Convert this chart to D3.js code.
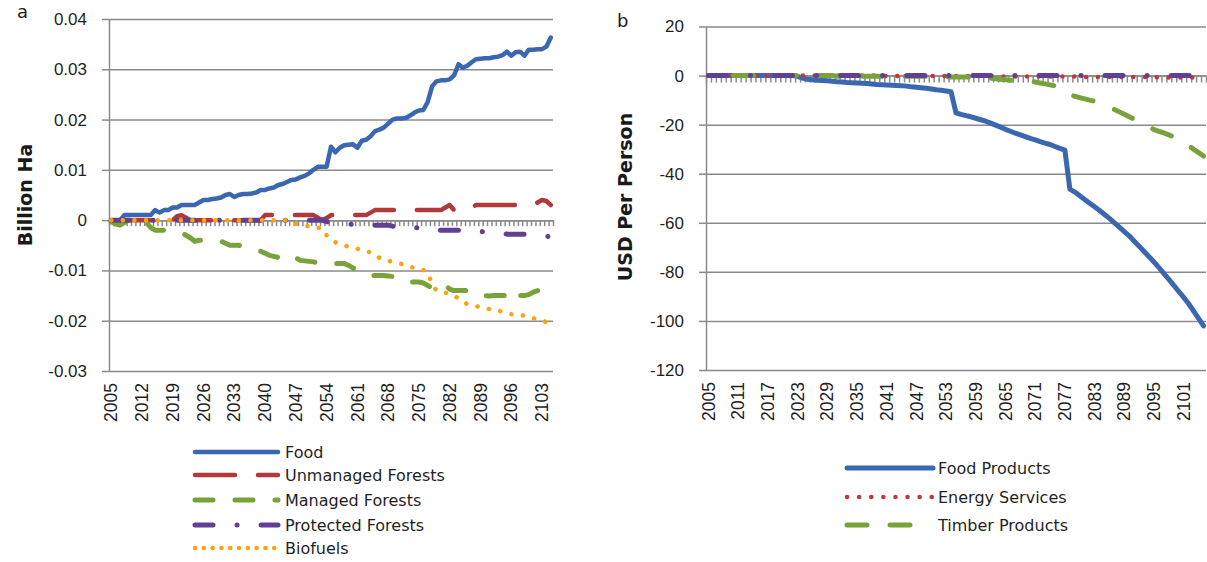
<!DOCTYPE html>
<html>
<head>
<meta charset="utf-8">
<script src="https://cdn.jsdelivr.net/npm/d3@7"></script>
<style>
  body { margin: 0; background: #fff; }
  svg { font-family: "DejaVu Sans", sans-serif; }
  .axis text { font-size: 17px; fill: #1f1f1f; }
  .xlab text { font-size: 17.5px; }
  .axis line, .axis path { stroke: #8a8a8a; stroke-width: 1.5; }
  .grid line { stroke: #8a8a8a; stroke-width: 1.5; }
  .legend text { font-size: 16px; fill: #1f1f1f; }
</style>
</head>
<body>
<svg id="chart" width="1207" height="562"></svg>
<script>
// categories: one per year
var years = d3.range(2005, 2106);

// panel a, billion ha
var food = [
  0, 0, 0, 0.001, 0.001, 0.001, 0.001, 0.001, 0.001, 0.001,
  0.002, 0.0015, 0.002, 0.002, 0.0025, 0.0025, 0.003, 0.003, 0.003, 0.003,
  0.0035, 0.004, 0.004, 0.0042, 0.0043, 0.0045, 0.005, 0.0052, 0.0046, 0.005,
  0.0052, 0.0052, 0.0053, 0.0055, 0.006, 0.006, 0.0063, 0.0065, 0.007, 0.0072,
  0.0076, 0.008, 0.0081, 0.0085, 0.0088, 0.0093, 0.01, 0.0106, 0.0106, 0.0106,
  0.0146, 0.0135, 0.0144, 0.0149, 0.015, 0.0151, 0.0144, 0.0158, 0.016, 0.0167,
  0.0177, 0.018, 0.0184, 0.0192, 0.02, 0.0202, 0.0202, 0.0203, 0.0208, 0.0214,
  0.0218, 0.0219, 0.0235, 0.0266, 0.0276, 0.0278, 0.0278, 0.028, 0.0288, 0.031,
  0.0303, 0.0307, 0.0314, 0.032, 0.0321, 0.0322, 0.0322, 0.0324, 0.0325, 0.0328,
  0.0335, 0.0327, 0.0334, 0.0335, 0.0327, 0.0339, 0.0339, 0.034, 0.034, 0.0345,
  0.0363
];
var unmanaged = [
  0, 0, 0, 0, 0, 0, 0, 0, 0, 0,
  0, 0, 0, 0, 0, 0.0008, 0.001, 0.0005, 0, 0,
  0, 0, 0, 0, 0, 0, 0, 0, 0, 0,
  0, 0, 0, 0, 0, 0.001, 0.001, 0.001, 0.001, 0.001,
  0.001, 0.001, 0.001, 0.001, 0.001, 0.001, 0.001, 0.0005, 0, 0.0004,
  0.001, 0.001, 0.001, 0.001, 0.001, 0.001, 0.001, 0.001, 0.001, 0.0015,
  0.002, 0.002, 0.002, 0.002, 0.002, 0.002, 0.002, 0.002, 0.002, 0.002,
  0.002, 0.002, 0.002, 0.002, 0.002, 0.002, 0.0025, 0.003, 0.002, 0.002,
  0.002, 0.002, 0.0025, 0.003, 0.003, 0.003, 0.003, 0.003, 0.003, 0.003,
  0.003, 0.003, 0.003, 0.003, 0.003, 0.003, 0.003, 0.0035, 0.004, 0.0038,
  0.003
];
var managed = [
  -0.0003, -0.0008, -0.001, -0.0005, 0, 0, 0, 0, -0.0005, -0.0015,
  -0.002, -0.002, -0.002, -0.002, -0.0021, -0.0022, -0.0025, -0.003, -0.0035, -0.0042,
  -0.004, -0.004, -0.004, -0.004, -0.0041, -0.0042, -0.0046, -0.005, -0.005, -0.005,
  -0.0052, -0.0054, -0.0056, -0.006, -0.0062, -0.0066, -0.007, -0.0072, -0.0074, -0.0077,
  -0.0076, -0.007, -0.0075, -0.008, -0.0081, -0.0082, -0.0083, -0.0085, -0.0086, -0.0086,
  -0.0086, -0.0086, -0.0086, -0.0086, -0.009, -0.0095, -0.01, -0.0103, -0.0108, -0.011,
  -0.011, -0.011, -0.011, -0.0111, -0.0112, -0.0112, -0.0114, -0.012, -0.0123, -0.0123,
  -0.0123, -0.0125, -0.013, -0.0135, -0.014, -0.0135, -0.013, -0.0137, -0.014, -0.014,
  -0.014, -0.014, -0.014, -0.014, -0.0146, -0.015, -0.0151, -0.015, -0.015, -0.015,
  -0.015, -0.014, -0.0152, -0.015, -0.015, -0.0148, -0.0143, -0.014, -0.0146, -0.015,
  -0.0151
];
var protectedF = [
  0, 0, 0, 0, 0, 0, 0, 0, 0, 0,
  0, 0, 0, 0, 0, 0, 0, 0, 0, 0,
  0, 0, 0, 0, 0, 0, 0, 0, 0, 0,
  0, 0, 0, 0, 0, 0, 0, 0, 0, 0,
  0, 0, 0, 0, 0, 0, 0, 0, 0, -0.0003,
  -0.0004, -0.0005, -0.0006, -0.0007, -0.0008, -0.0008, -0.0008, -0.0008, -0.0008, -0.001,
  -0.001, -0.001, -0.001, -0.001, -0.0012, -0.0012, -0.0012, -0.0015, -0.0015, -0.0015,
  -0.0015, -0.0017, -0.0017, -0.0017, -0.002, -0.002, -0.002, -0.002, -0.002, -0.002,
  -0.0022, -0.0022, -0.0022, -0.0022, -0.0022, -0.0024, -0.0025, -0.0025, -0.0025, -0.0025,
  -0.0028, -0.0028, -0.0028, -0.0028, -0.0028, -0.003, -0.003, -0.003, -0.003, -0.0032,
  -0.0033
];
var biofuels = [
  0, 0, 0, 0, 0, 0, 0, 0, 0, 0,
  0, 0, 0, 0, 0, 0, 0, 0, 0, 0,
  0, 0, 0, 0, 0, 0, 0, 0, 0, 0,
  0, 0, 0, 0, 0, 0, 0, 0, 0, 0,
  0, -0.0003, -0.0007, -0.001, -0.0011, -0.0012, -0.0014, -0.0015, -0.0016, -0.003,
  -0.0036, -0.0044, -0.0048, -0.005, -0.0053, -0.0055, -0.0057, -0.006, -0.0062, -0.0064,
  -0.007, -0.0075, -0.0078, -0.0081, -0.0083, -0.0085, -0.0087, -0.009, -0.0093, -0.0095,
  -0.0097, -0.0099, -0.0104, -0.0128, -0.014, -0.0141, -0.0144, -0.0147, -0.0151, -0.0155,
  -0.0161, -0.0167, -0.0169, -0.0171, -0.0173, -0.0175, -0.0177, -0.0179, -0.018, -0.0182,
  -0.0185, -0.0187, -0.0188, -0.0189, -0.019, -0.0192, -0.0195, -0.0197, -0.0199, -0.0203,
  -0.0206
];

// panel b, USD per person
var foodProducts = [
  0, 0, 0, 0, 0, 0, 0, 0, 0, 0,
  0, 0, 0, 0, 0, 0, 0, 0, -0.3, -1,
  -1.5, -1.7, -1.9, -2, -2.1, -2.3, -2.5, -2.6, -2.8, -2.9,
  -3, -3.1, -3.2, -3.4, -3.6, -3.7, -3.8, -3.9, -4, -4.1,
  -4.3, -4.6, -4.8, -5, -5.2, -5.5, -5.8, -6, -6.3, -6.6,
  -15.2, -15.8, -16.3, -16.8, -17.4, -18, -18.6, -19.4, -20.2, -21,
  -21.9, -22.7, -23.5, -24.2, -24.9, -25.6, -26.2, -26.9, -27.5, -28.1,
  -28.9, -29.7, -30.4, -46.3, -47.5, -49, -50.5, -52, -53.5, -55,
  -56.6, -58.2, -60, -61.8, -63.6, -65.3, -67.5, -69.6, -71.7, -73.8,
  -76, -78.3, -80.7, -83.1, -85.5, -88, -90.4, -93, -96, -99,
  -102
];
var energyServices = [
  0, 0, 0, 0, 0, 0, 0, 0, 0, 0,
  0, 0, 0, 0, 0, 0, 0, 0, 0, 0,
  0, 0, 0, 0, 0, 0, 0, 0, 0, 0,
  0, 0, 0, 0, 0, 0, -0.2, -0.2, -0.2, -0.2,
  -0.2, -0.2, -0.2, -0.2, -0.2, -0.2, -0.2, -0.2, -0.2, -0.2,
  -0.2, -0.2, -0.2, -0.2, -0.2, -0.2, -0.4, -0.4, -0.4, -0.4,
  -0.4, -0.4, -0.4, -0.4, -0.4, -0.4, -0.4, -0.4, -0.4, -0.4,
  -0.4, -0.4, -0.4, -0.4, -0.4, -0.4, -0.6, -0.6, -0.6, -0.6,
  -0.6, -0.6, -0.6, -0.6, -0.6, -0.6, -0.6, -0.6, -0.6, -0.6,
  -0.6, -0.8, -0.8, -0.8, -0.8, -0.8, -0.8, -0.8, -0.8, -0.8,
  -0.8
];
var timberProducts = [
  0, 0, 0, 0, 0, 0, 0, 0, 0, 0,
  0, 0, 0, 0, 0, 0, 0, 0, 0, 0,
  0, 0, 0, 0, 0, 0, -0.3, -0.3, -0.3, -0.3,
  -0.3, -0.3, -0.3, -0.3, -0.3, -0.3, -0.3, -0.3, -0.3, -0.3,
  -0.3, -0.3, -0.3, -0.3, -0.3, -0.3, -0.6, -0.6, -0.6, -0.6,
  -0.6, -0.6, -0.6, -0.6, -0.6, -0.6, -0.9, -1.1, -1.3, -1.5,
  -1.7, -1.9, -2.1, -2.2, -2.3, -2.4, -2.6, -3, -3.4, -3.8,
  -4.2, -4.6, -5.5, -7.5, -8.5, -9, -9.5, -10, -10.5, -11.2,
  -12, -12.9, -13.8, -14.8, -15.8, -16.8, -17.8, -18.8, -19.8, -20.9,
  -22, -22.7, -23.4, -24.2, -25, -26, -27.2, -28.5, -30, -31.4,
  -32.8
];
// unlabelled series lying on zero in panel b
var hiddenB = [
  0, 0, 0, 0, 0, 0, 0, 0, 0, 0,
  0, 0, 0, 0, 0, 0, 0, 0, 0, 0,
  0, 0, 0, 0, 0, 0, 0, 0, 0, 0,
  0, 0, 0, 0, 0, 0, 0, 0, 0, 0,
  0, 0, 0, 0, 0, 0, 0, 0, 0, 0,
  0, 0, 0, 0, 0, 0, 0, 0, 0, 0,
  0, 0, 0, 0, 0, 0, 0, 0, 0, 0,
  0, 0, 0, 0, 0, 0, 0, 0, 0, 0,
  0, 0, 0, 0, 0, 0, 0, 0, 0, 0,
  0, 0, 0, 0, 0, 0, 0, 0, 0, 0,
  0
];

var yTicksA = [0.04, 0.03, 0.02, 0.01, 0, -0.01, -0.02, -0.03];
var yTicksB = [20, 0, -20, -40, -60, -80, -100, -120];
var xLabelsA = [2005, 2012, 2019, 2026, 2033, 2040, 2047, 2054, 2061, 2068, 2075, 2082, 2089, 2096, 2103];
var xLabelsB = [2005, 2011, 2017, 2023, 2029, 2035, 2041, 2047, 2053, 2059, 2065, 2071, 2077, 2083, 2089, 2095, 2101];

var blue = '#3b67b0', red = '#b2393a', green = '#77a33a', purple = '#5f4092', orange = '#ffa20a';

var svg = d3.select('#chart');

// excel style: plain hyphen for negatives
function hyphen(f) {
    return d => f(d).replace('\u2212', '-');
}

function drawPanel(p) {
    var g = svg.append('g');
    var x = d3.scaleBand().domain(years).range([p.left, p.right]);
    var edge = d3.scaleLinear().domain([0, years.length]).range([p.left, p.right]);
    var y = d3.scaleLinear().domain(p.yDomain).range([p.bottom, p.top]);

    g.append('g').attr('class', 'grid')
        .attr('transform', `translate(${p.left},0)`)
        .call(d3.axisLeft(y).tickValues(p.yTicks).tickSize(-(p.right - p.left)).tickFormat(''))
        .call(s => s.select('.domain').remove());

    g.append('g').attr('class', 'axis')
        .attr('transform', `translate(${p.left},0)`)
        .call(d3.axisLeft(y).tickValues(p.yTicks).tickSize(7).tickSizeOuter(0).tickPadding(15).tickFormat(p.fmt));

    g.append('g').attr('class', 'axis xlab')
        .attr('transform', `translate(0,${p.bottom})`)
        .call(d3.axisBottom(x).tickValues(p.xLabels).tickSize(0))
        .call(s => s.select('.domain').remove())
        .selectAll('text')
        .attr('transform', 'rotate(-90)')
        .attr('x', -12).attr('y', 0).attr('dy', '0.35em')
        .style('text-anchor', 'end');

    // category axis crossing at zero
    g.append('g').attr('class', 'axis')
        .attr('transform', `translate(0,${y(0)})`)
        .call(d3.axisBottom(edge).tickValues(d3.range(years.length + 1)).tickSize(p.tickLen).tickSizeOuter(0).tickFormat(''));

    var line = d3.line()
        .x((d, i) => x(years[i]) + x.bandwidth() / 2)
        .y(d => y(d));

    p.series.forEach(function(s) {
        g.append('path')
            .datum(s.values)
            .attr('fill', 'none')
            .attr('stroke', s.color)
            .attr('stroke-width', s.width)
            .attr('stroke-linecap', 'round')
            .attr('stroke-linejoin', 'round')
            .attr('stroke-dasharray', s.dash)
            .attr('stroke-dashoffset', s.offset || 0)
            .attr('d', line);
    });

    var lg = g.append('g').attr('class', 'legend');
    p.series.filter(s => s.label).forEach(function(s, i) {
        var ly = p.legendY[i];
        lg.append('line')
            .attr('x1', p.legendX[0]).attr('x2', p.legendX[1])
            .attr('y1', ly).attr('y2', ly)
            .attr('stroke', s.color)
            .attr('stroke-width', s.width)
            .attr('stroke-linecap', 'round')
            .attr('stroke-dasharray', s.legendDash || s.dash);
        lg.append('text')
            .attr('x', p.legendX[2]).attr('y', ly).attr('dy', '0.35em')
            .text(s.label);
    });

    svg.append('text')
        .attr('transform', `translate(${p.titleX},${p.titleY}) rotate(-90)`)
        .attr('text-anchor', 'middle')
        .style('font-weight', 'bold').style('font-size', '19px').attr('fill', '#1a1a1a')
        .text(p.title);

    svg.append('text')
        .attr('x', p.tag[1]).attr('y', p.tag[2])
        .style('font-size', '18px').attr('fill', '#1a1a1a')
        .text(p.tag[0]);
}

drawPanel({
    left: 109, right: 553, top: 19, bottom: 371,
    yDomain: [-0.03, 0.04], yTicks: yTicksA,
    fmt: hyphen(d => d === 0 ? '0' : d3.format('.2f')(d)),
    xLabels: xLabelsA, tickLen: 6,
    title: 'Billion Ha', titleX: 32, titleY: 195,
    tag: ['a', 17, 18],
    legendX: [195, 278, 285], legendY: [452, 475, 500, 525, 548],
    series: [
        { label: 'Food', values: food, color: blue, width: 4.5, dash: null },
        { label: 'Unmanaged Forests', values: unmanaged, color: red, width: 4.5, dash: '40,23' },
        { label: 'Managed Forests', values: managed, color: green, width: 5, dash: '18,22' },
        { label: 'Protected Forests', values: protectedF, color: purple, width: 5, dash: '18,24,0.1,24' },
        { label: 'Biofuels', values: biofuels, color: orange, width: 4.5, dash: '0.1,11.5', legendDash: '0.1,8.7' }
    ]
});

drawPanel({
    left: 706, right: 1206, top: 26.5, bottom: 370,
    yDomain: [-120, 20], yTicks: yTicksB,
    fmt: hyphen(d3.format('d')),
    xLabels: xLabelsB, tickLen: 7,
    title: 'USD Per Person', titleX: 632, titleY: 197,
    tag: ['b', 617, 27],
    legendX: [847, 933, 938], legendY: [468, 497, 525],
    series: [
        { label: 'Food Products', values: foodProducts, color: blue, width: 5, dash: null },
        { label: 'Energy Services', values: energyServices, color: '#c0383b', width: 4.5, dash: '0.1,11.7', legendDash: '0.1,12' },
        { label: 'Timber Products', values: timberProducts, color: green, width: 5, dash: '20,23', offset: 18 },
        { label: null, values: hiddenB, color: purple, width: 5, dash: '18,24,0.1,24' }
    ]
});
</script>
</body>
</html>
